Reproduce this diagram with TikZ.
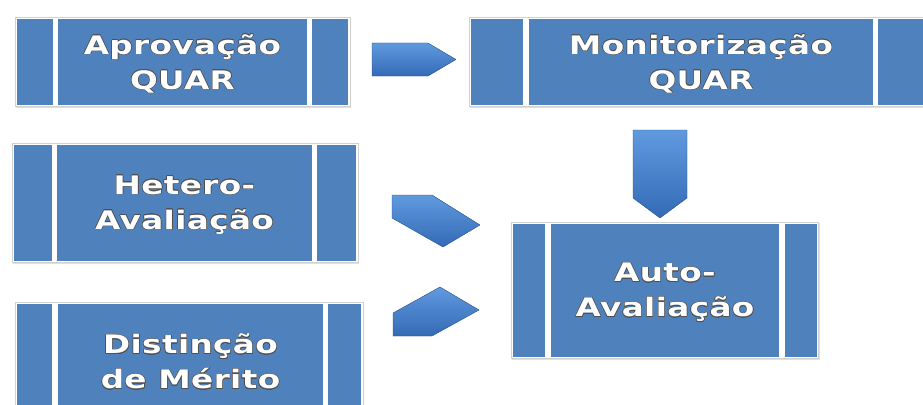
\documentclass[tikz,border=0pt]{standalone}
\usepackage{fontspec}
\usepackage[copies]{contour}
\usepackage{tikz}
\usetikzlibrary{positioning,fit,backgrounds,shadows}
\newfontfamily\boxfont[FakeStretch=1.28,LetterSpace=1.5]{DejaVu Sans Bold}
\definecolor{boxblue}{RGB}{79,129,189}
\definecolor{arrtop}{RGB}{96,154,222}
\definecolor{arrbot}{RGB}{52,106,182}
\definecolor{glowgray}{RGB}{80,80,80}
\contourlength{0.5pt}
\newcommand{\glow}[1]{\contour{glowgray}{#1}}
\tikzstyle{midbox}=[fill=boxblue, text=white, align=center, inner sep=0pt, text depth=-9pt, font=\boxfont\fontsize{25.5pt}{35pt}\selectfont]
\tikzstyle{sidebox}=[fill=boxblue, inner sep=0pt]
\tikzstyle{framebox}=[fill=white, draw=black!18, line width=0.6pt, inner sep=1.5pt, drop shadow={opacity=0.25, shadow xshift=1pt, shadow yshift=-1.5pt}]
\tikzstyle{blockarrow}=[top color=arrtop, bottom color=arrbot, draw=arrbot!75!black, line width=0.4pt, line join=round]
\tikzset{
    size/.style args={#1 and #2}{
         minimum width=#1, minimum height=#2
    }
}

\begin{document}
\begin{tikzpicture}[x=1pt, y=-1pt]
  \path[use as bounding box] (0,0) rectangle (923,404);
  \clip (0,0) rectangle (923,404);

      %%%%%%%% top row %%%%%%%%
      \node (aprov)[midbox, size=249pt and 85pt] at (182.5,62) {\glow{Aprovação}\\\glow{QUAR}};
      \node (aprov_l)[sidebox, size=36pt and 85pt, left=5pt of aprov] {};
      \node (aprov_r)[sidebox, size=36pt and 85pt, right=5pt of aprov] {};

      \node (monit)[midbox, size=344pt and 85pt] at (701,62) {\glow{Monitorização}\\\glow{QUAR}};
      \node (monit_l)[sidebox, size=52pt and 85pt, left=5.5pt of monit] {};
      \node (monit_r)[sidebox, size=52pt and 85pt, right=5pt of monit] {};

      %%%%%%%% left column %%%%%%%%
      \node (hetero)[midbox, size=255pt and 116pt] at (184.5,202.5) {\glow{Hetero-}\\\glow{Avaliação}};
      \node (hetero_l)[sidebox, size=38pt and 116pt, left=5pt of hetero] {};
      \node (hetero_r)[sidebox, size=39pt and 116pt, right=5pt of hetero] {};

      \node (dist)[midbox, size=265pt and 116pt] at (190.5,361.5) {\glow{Distinção}\\\glow{de Mérito}};
      \node (dist_l)[sidebox, size=35pt and 116pt, left=5.5pt of dist] {};
      \node (dist_r)[sidebox, size=33pt and 116pt, right=5pt of dist] {};

      %%%%%%%% target %%%%%%%%
      \node (auto)[midbox, size=228pt and 133pt] at (665,290) {\glow{Auto-}\\\glow{Avaliação}};
      \node (auto_l)[sidebox, size=32pt and 133pt, left=5.5pt of auto] {};
      \node (auto_r)[sidebox, size=32pt and 133pt, right=5.5pt of auto] {};

  \begin{scope}[on background layer]
      \node (aprov_f)[framebox, fit=(aprov_l)(aprov_r)] {};
      \node (monit_f)[framebox, fit=(monit_l)(monit_r)] {};
      \node (hetero_f)[framebox, fit=(hetero_l)(hetero_r)] {};
      \node (dist_f)[framebox, fit=(dist_l)(dist_r)] {};
      \node (auto_f)[framebox, fit=(auto_l)(auto_r)] {};
  \end{scope}

  % block arrows
  \draw[blockarrow] (372,43) -- (428,43) -- (456,59.5) -- (428,76) -- (372,76) -- cycle;
  \draw[blockarrow] (633,130) -- (687,130) -- (687,198) -- (660,218) -- (633,198) -- cycle;
  \draw[blockarrow] (392,195) -- (432,195) -- (480,225) -- (443,247) -- (392,218) -- cycle;
  \draw[blockarrow] (393,313) -- (440,287) -- (479,310) -- (432,336) -- (393,336) -- cycle;

\end{tikzpicture}
\end{document}
